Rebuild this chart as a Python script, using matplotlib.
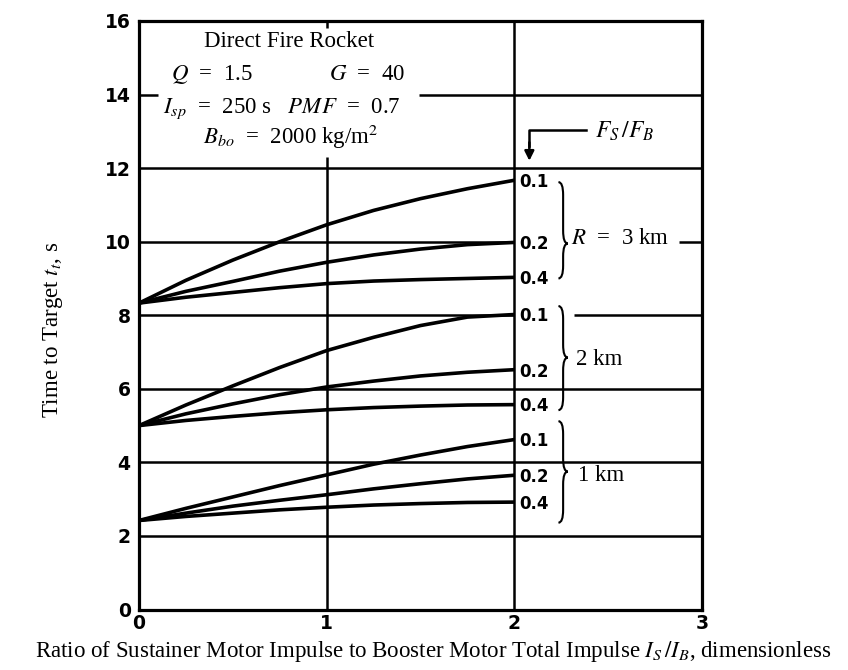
import matplotlib
matplotlib.use('Agg')
import matplotlib.pyplot as plt
from matplotlib.path import Path
from matplotlib.patches import PathPatch

plt.rcParams['mathtext.fontset'] = 'stix'
plt.rcParams['font.family'] = ['Liberation Serif', 'DejaVu Serif']

# ---------------- data ----------------
x_ratio = [0, 0.25, 0.5, 0.75, 1.0, 1.25, 1.5, 1.75, 2.0]

t_3km_01 = [8.33, 8.95, 9.50, 10.00, 10.46, 10.85, 11.17, 11.44, 11.67]
t_3km_02 = [8.33, 8.65, 8.92, 9.20, 9.44, 9.64, 9.80, 9.92, 9.98]
t_3km_04 = [8.33, 8.49, 8.62, 8.75, 8.86, 8.93, 8.97, 9.00, 9.03]

t_2km_01 = [5.00, 5.56, 6.08, 6.58, 7.04, 7.40, 7.72, 7.95, 8.02]
t_2km_02 = [5.00, 5.32, 5.59, 5.84, 6.05, 6.21, 6.35, 6.45, 6.52]
t_2km_04 = [5.00, 5.14, 5.25, 5.35, 5.43, 5.49, 5.53, 5.56, 5.57]

t_1km_01 = [2.42, 2.75, 3.06, 3.37, 3.66, 3.95, 4.20, 4.43, 4.62]
t_1km_02 = [2.42, 2.62, 2.81, 2.97, 3.12, 3.28, 3.42, 3.55, 3.65]
t_1km_04 = [2.42, 2.53, 2.62, 2.71, 2.78, 2.84, 2.88, 2.91, 2.92]

thrust_ratio_labels = ['0.1', '0.2', '0.4']
range_labels = ['$R$  =  3 km', '2 km', '1 km']
groups = [
    [t_3km_01, t_3km_02, t_3km_04],
    [t_2km_01, t_2km_02, t_2km_04],
    [t_1km_01, t_1km_02, t_1km_04],
]

x_ticks = [0, 1, 2, 3]
y_ticks = [0, 2, 4, 6, 8, 10, 12, 14, 16]

SERIF = 16.5

# ---------------- figure ----------------
fig = plt.figure(figsize=(8.48, 6.70), dpi=100)
ax = fig.add_axes([139 / 848, 60.5 / 670, 563 / 848, 588.5 / 670])
ax.set_xlim(0, 3)
ax.set_ylim(0, 16)

for s in ax.spines.values():
    s.set_linewidth(2.3)
    s.set_color('black')

ax.set_xticks(x_ticks)
ax.set_yticks(y_ticks)
ax.tick_params(length=0)
ax.tick_params(axis='y', pad=6)
ax.tick_params(axis='x', pad=3)
for lab in ax.get_xticklabels() + ax.get_yticklabels():
    lab.set_family('DejaVu Sans')
    lab.set_fontweight('bold')
    lab.set_fontsize(13.5)

glw = 1.8
gk = dict(color='black', lw=glw, solid_capstyle='butt', zorder=1)
# horizontal grid lines
ax.plot([0, 3], [2, 2], **gk)
ax.plot([0, 3], [4, 4], **gk)
ax.plot([0, 3], [6, 6], **gk)
ax.plot([2.32, 3], [8, 8], **gk)
ax.plot([0, 2], [8, 8], **gk)
ax.plot([0, 2], [10, 10], **gk)
ax.plot([2.88, 3], [10, 10], **gk)
ax.plot([0, 3], [12, 12], **gk)
ax.plot([0, 0.1], [14, 14], **gk)
ax.plot([1.49, 3], [14, 14], **gk)
# vertical grid lines
ax.plot([1, 1], [0, 12.3], **gk)
ax.plot([1, 1], [15.8, 16], **gk)
ax.plot([2, 2], [0, 16], **gk)

# curves
for grp in groups:
    for ys, lab in zip(grp, thrust_ratio_labels):
        ax.plot(x_ratio, ys, color='black', lw=2.6, solid_capstyle='butt', zorder=3)
        ax.text(2.025, ys[-1] - 0.05, lab, family='DejaVu Sans', fontweight='bold',
                fontsize=12, ha='left', va='center', zorder=4,
                bbox=dict(facecolor='white', edgecolor='none', pad=0.5))


def brace(x0, ytop, ymid, ybot, d=0.025, s=0.35):
    verts = [(x0 - d, ytop), (x0, ytop), (x0, ytop - s),
             (x0, ymid + s),
             (x0, ymid), (x0 + d, ymid),
             (x0, ymid), (x0, ymid - s),
             (x0, ybot + s),
             (x0, ybot), (x0 - d, ybot)]
    codes = [Path.MOVETO, Path.CURVE3, Path.CURVE3,
             Path.LINETO,
             Path.CURVE3, Path.CURVE3,
             Path.CURVE3, Path.CURVE3,
             Path.LINETO,
             Path.CURVE3, Path.CURVE3]
    ax.add_patch(PathPatch(Path(verts, codes), fill=False, lw=1.5, color='black', zorder=4))


brace(2.26, 11.62, 9.95, 9.0)
brace(2.26, 8.25, 6.85, 5.42)
brace(2.26, 5.12, 3.75, 2.36)

ax.text(2.30, 10.08, range_labels[0], fontsize=SERIF, ha='left', va='center', zorder=5,
        bbox=dict(facecolor='white', edgecolor='none', pad=1))
ax.text(2.33, 6.8, range_labels[1], fontsize=SERIF, ha='left', va='center', zorder=5)
ax.text(2.34, 3.65, range_labels[2], fontsize=SERIF, ha='left', va='center', zorder=5)

# F_S/F_B pointer
ax.plot([2.38, 2.08, 2.08], [13.05, 13.05, 12.6], color='black', lw=1.8, zorder=4)
ax.annotate('', xy=(2.08, 12.2), xytext=(2.08, 12.7),
            arrowprops=dict(arrowstyle='-|>', color='black', lw=1.8,
                            mutation_scale=14, shrinkA=0, shrinkB=0), zorder=4)
ax.text(2.43, 13.0, '$F_S\\,/F_B$', fontsize=17, ha='left', va='center')

# parameter block
ax.text(0.80, 15.44, 'Direct Fire Rocket', fontsize=SERIF, ha='center', va='center')
ax.text(0.17, 14.55, '$Q$  =  1.5', fontsize=SERIF, ha='left', va='center')
ax.text(1.01, 14.55, '$G$  =  40', fontsize=SERIF, ha='left', va='center')
ax.text(0.13, 13.62, '$I_{sp}$  =  250 s   $PMF$  =  0.7', fontsize=SERIF, ha='left', va='center')
ax.text(0.34, 12.85, '$B_{bo}$  =  2000 kg/m$^2$', fontsize=SERIF, ha='left', va='center')

# axis labels
fig.text(53 / 848, 1 - 330 / 670, 'Time to Target $t_t$, s', rotation=90,
         fontsize=SERIF, ha='center', va='center')
fig.text(433 / 848, 1 - 652 / 670,
         'Ratio of Sustainer Motor Impulse to Booster Motor Total Impulse $I_S\\,/I_B$, dimensionless',
         fontsize=SERIF, ha='center', va='center')

fig.savefig('out.png', dpi=100)
